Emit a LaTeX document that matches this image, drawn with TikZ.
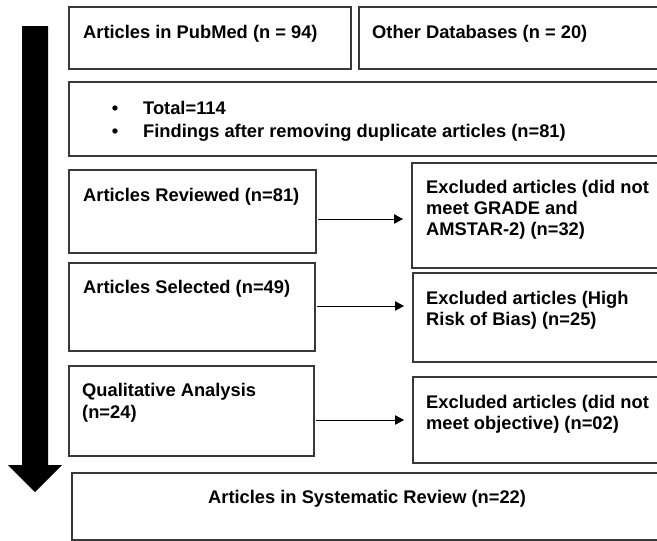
\documentclass[tikz,border=0pt]{standalone}
\usepackage{fontspec}
\setmainfont{Liberation Sans}
\usetikzlibrary{arrows.meta}
\tikzset{
  box/.style={draw=black!78, line width=1.3pt, anchor=north west, inner sep=0pt, outer sep=0pt},
  txt/.style={anchor=base west, inner sep=0pt, font=\fontsize{18.3}{21}\selectfont\bfseries},
  bul/.style={anchor=base, inner sep=0pt, font=\fontsize{18.3}{21}\selectfont\bfseries},
  arr/.style={draw=black, line width=1pt, -{Triangle[length=9pt,width=9.5pt]}, shorten <=2pt, shorten >=9pt}
}
\begin{document}
\begin{tikzpicture}[x=1pt,y=-1pt]
\useasboundingbox (0,0) rectangle (657,541);
% big downward arrow
\fill[black] (22,26) -- (48,26) -- (48,465) -- (62,465) -- (35,492) -- (8,465) -- (22,465) -- cycle;
% boxes
\node[box, minimum width=282pt, minimum height=62pt] (pub) at (69,7) {};
\node[box, minimum width=310pt, minimum height=62pt] (oth) at (359,7) {};
\node[box, minimum width=600pt, minimum height=74pt] (tot) at (69,82) {};
\node[box, minimum width=247pt, minimum height=83pt] (rev) at (69,170) {};
\node[box, minimum width=246pt, minimum height=88pt] (sel) at (69,263) {};
\node[box, minimum width=245pt, minimum height=90pt] (qual) at (69,366) {};
\node[box, minimum width=260pt, minimum height=105pt] (ex1) at (412,163) {};
\node[box, minimum width=260pt, minimum height=89pt] (ex2) at (413,273) {};
\node[box, minimum width=260pt, minimum height=86pt] (ex3) at (413,377) {};
\node[box, minimum width=600pt, minimum height=67pt] (sys) at (72,473) {};
% texts
\node[txt] (tpub) at (83,38) {Articles in PubMed (n = 94)};
\node[txt] (toth) at (372,38) {Other Databases (n = 20)};
\node[bul] (b1) at (115,114) {•};
\node[bul] (b2) at (115,137) {•};
\node[txt] (ttot1) at (143,114) {Total=114};
\node[txt] (ttot2) at (143,137) {Findings after removing duplicate articles (n=81)};
\node[txt] (trev) at (83,201) {Articles Reviewed (n=81)};
\node[txt] (tsel) at (83,293) {Articles Selected (n=49)};
\node[txt] (tqual1) at (82,396) {Qualitative Analysis};
\node[txt] (tqual2) at (82,418) {(n=24)};
\node[txt] (tex1a) at (426,193) {Excluded articles (did not};
\node[txt] (tex1b) at (426,214) {meet GRADE and};
\node[txt] (tex1c) at (426,235) {AMSTAR-2) (n=32)};
\node[txt] (tex2a) at (426,304) {Excluded articles (High};
\node[txt] (tex2b) at (426,325) {Risk of Bias) (n=25)};
\node[txt] (tex3a) at (426,408) {Excluded articles (did not};
\node[txt] (tex3b) at (426,429) {meet objective) (n=02)};
\node[txt] (tsys) at (208,503) {Articles in Systematic Review (n=22)};
% connectors
\draw[arr] ([yshift=-7.5pt]rev.east) -- ([yshift=-7.5pt]rev.east -| ex1.west);
\draw[arr] ([yshift=1pt]sel.east) -- ([yshift=1pt]sel.east -| ex2.west);
\draw[arr] (qual.east |- ex3.west) -- (ex3.west);
\end{tikzpicture}
\end{document}
